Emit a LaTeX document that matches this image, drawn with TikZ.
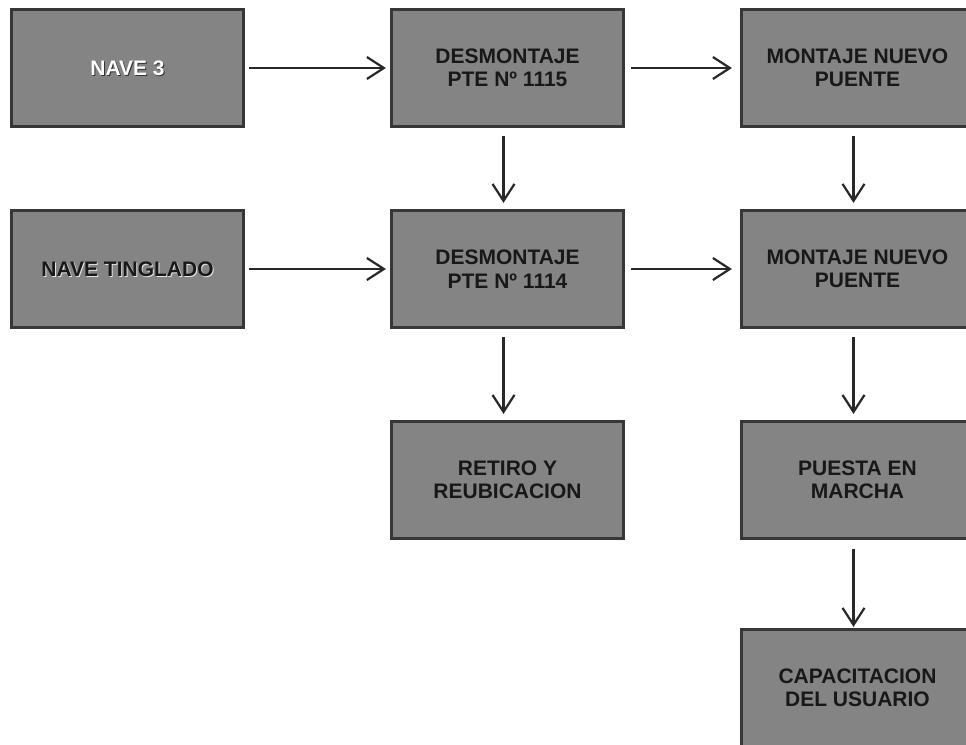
\documentclass[tikz,border=0pt]{standalone}
\usepackage{fontspec}
\setmainfont{Liberation Sans}
\usetikzlibrary{arrows.meta}
\definecolor{boxfill}{RGB}{132,132,132}
\definecolor{boxedge}{RGB}{55,55,55}
\definecolor{inkdark}{RGB}{24,24,24}
\definecolor{arrowink}{RGB}{40,40,40}
\tikzset{
  labelfont/.style={font=\fontsize{21}{23.5}\selectfont\bfseries},
  stage/.style={rectangle, draw=boxedge, line width=3.2pt, fill=boxfill,
    minimum width=232pt, minimum height=117pt, align=center,
    labelfont, text=inkdark, inner sep=0pt},
  flow/.style={draw=arrowink, line width=2.2pt,
    -{Straight Barb[length=17pt,width=22pt,line width=2.2pt]}},
}
\begin{document}
\begin{tikzpicture}[x=1pt, y=-1pt]
\useasboundingbox (0,0) rectangle (966,744);
\clip (0,0) rectangle (966,744);
\fill[white] (0,0) rectangle (966,744);

% left column: sources
\node[stage] (nave3) at (127.5,68) {};
\node[labelfont, text=black!80] at (128.5,69) {NAVE 3};
\node[labelfont, text=white] at (127.5,68) {NAVE 3};
\node[stage] (tinglado) at (127.5,269) {};
\node[labelfont, text=white!80!gray] at (128.5,270) {NAVE TINGLADO};
\node[labelfont, text=inkdark] at (127.5,269) {NAVE TINGLADO};

% middle column: dismantling
\node[stage] (des1115) at (507.5,68) {DESMONTAJE\\PTE Nº 1115};
\node[stage] (des1114) at (507.5,269) {DESMONTAJE\\PTE Nº 1114};
\node[stage] (retiro) at (507.5,480) {RETIRO Y\\REUBICACION};

% right column: new bridges
\node[stage] (mon1) at (857.5,68) {MONTAJE NUEVO\\PUENTE};
\node[stage] (mon2) at (857.5,269) {MONTAJE NUEVO\\PUENTE};
\node[stage] (marcha) at (857.5,480) {PUESTA EN\\MARCHA};
\node[stage] (capac) at (857.5,688) {CAPACITACION\\DEL USUARIO};

% horizontal connectors
\draw[flow, shorten <=4pt, shorten >=4pt] (nave3.east) -- (des1115.west);
\draw[flow, shorten <=4pt, shorten >=4pt] (tinglado.east) -- (des1114.west);
\draw[flow, shorten <=6pt, shorten >=8pt] (des1115.east) -- (mon1.west);
\draw[flow, shorten <=6pt, shorten >=8pt] (des1114.east) -- (mon2.west);

% vertical connectors
\draw[flow, shorten <=8pt, shorten >=6pt] ([xshift=-4pt]des1115.south) -- ([xshift=-4pt]des1114.north);
\draw[flow, shorten <=8pt, shorten >=6pt] ([xshift=-4pt]des1114.south) -- ([xshift=-4pt]retiro.north);
\draw[flow, shorten <=8pt, shorten >=6pt] ([xshift=-4pt]mon1.south) -- ([xshift=-4pt]mon2.north);
\draw[flow, shorten <=8pt, shorten >=6pt] ([xshift=-4pt]mon2.south) -- ([xshift=-4pt]marcha.north);
\draw[flow, shorten <=9pt, shorten >=1pt] ([xshift=-4pt]marcha.south) -- ([xshift=-4pt]capac.north);
\end{tikzpicture}
\end{document}
